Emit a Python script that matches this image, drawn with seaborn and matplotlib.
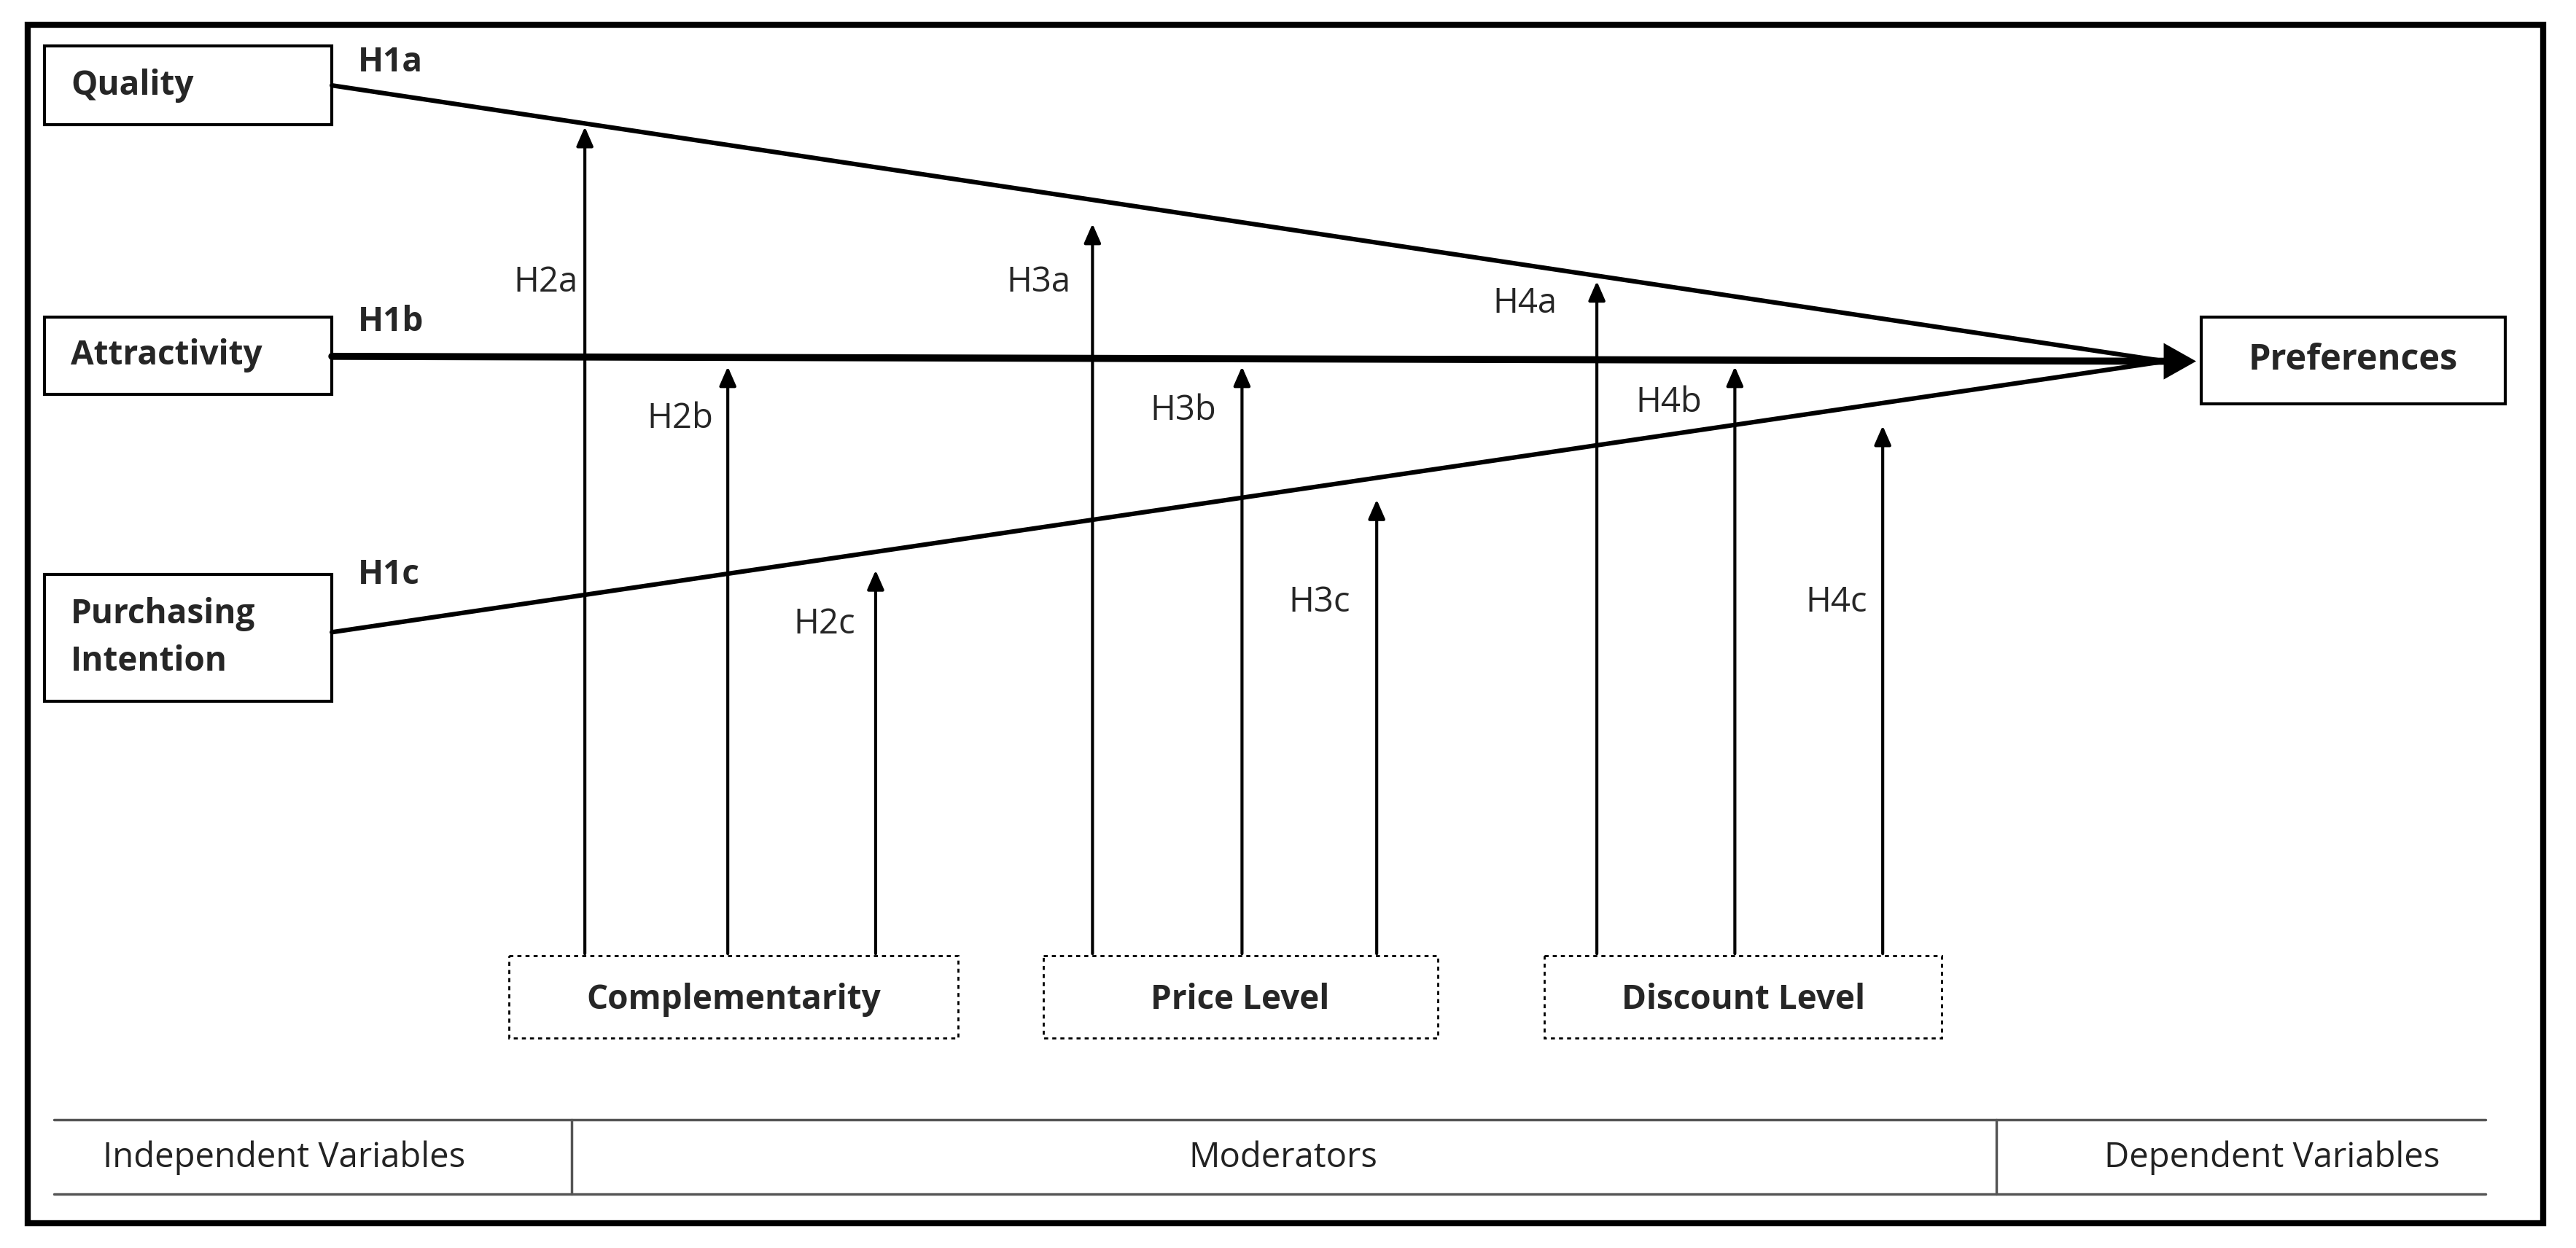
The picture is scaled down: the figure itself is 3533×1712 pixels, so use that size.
import matplotlib
matplotlib.use("Agg")
import matplotlib.pyplot as plt
import seaborn as sns
from matplotlib.patches import Rectangle, FancyArrowPatch

sns.set_style("white")
plt.rcParams['font.family'] = ['Open Sans', 'DejaVu Sans']

# --- content ---
independent = ["Quality", "Attractivity", "Purchasing\nIntention"]
h1_labels = ["H1a", "H1b", "H1c"]
moderators = ["Complementarity", "Price Level", "Discount Level"]
mod_labels = [["H2a", "H2b", "H2c"], ["H3a", "H3b", "H3c"], ["H4a", "H4b", "H4c"]]
dependent = "Preferences"
table_labels = ["Independent Variables", "Moderators", "Dependent Variables"]

# --- layout (image pixel coordinates of the 1568x760 view) ---
W, H = 1568, 760
iv_boxes = [(27, 28, 175, 48), (27, 193, 175, 47), (27, 350, 175, 77)]
iv_line_start = [(202, 52), (202, 217), (202, 385)]
h1_pos = [(218, 38), (218, 196), (218, 350)]
target = (1338, 220)
dv_box = (1340, 193, 185, 53)
mod_boxes = [(310, 582, 273, 50), (635, 582, 240, 50), (940, 582, 242, 50)]
arrow_x = [[356, 443, 533], [665, 756, 838], [972, 1056, 1146]]
arrow_top = [[76, 222, 346], [135, 222, 303], [170, 222, 258]]
lab_pos = [[(332, 172), (414, 255), (502, 380)],
           [(632, 172), (720, 250), (803, 367)],
           [(928, 185), (1016, 245), (1118, 367)]]

fig = plt.figure(figsize=(35.33, 17.12), dpi=100)
ax = fig.add_axes([0, 0, 1, 1])
ax.set_xlim(0, W)
ax.set_ylim(H, 0)
ax.axis("off")

lw = 4.5
ax.add_patch(Rectangle((17, 15), 1531, 730, fill=False, lw=6, color="black"))

for (x, y, w, h), name in zip(iv_boxes, independent):
    ax.add_patch(Rectangle((x, y), w, h, fill=False, lw=3, color="black"))
    ax.text(x + 16, y + h / 2, name, fontsize=33, fontweight="bold",
            va="center", ha="left", linespacing=1.5)

x, y, w, h = dv_box
ax.add_patch(Rectangle((x, y), w, h, fill=False, lw=3, color="black"))
ax.text(x + w / 2, y + h / 2, dependent, fontsize=35, fontweight="bold",
        va="center", ha="center")

for (sx, sy), lab, (lx, ly), i in zip(iv_line_start, h1_labels, h1_pos, range(3)):
    sns.lineplot(x=[sx, target[0] - 20], y=[sy, target[1]], ax=ax, color="black",
                 lw=7 if i == 1 else lw, sort=False)
    ax.text(lx, ly, lab, fontsize=33, fontweight="bold", va="center", ha="left")

ax.add_patch(FancyArrowPatch((target[0] - 30, target[1]), target,
                             arrowstyle="-|>,head_length=1.6,head_width=0.9",
                             mutation_scale=20, color="black", lw=0))

for (x, y, w, h), name, xs, tops, labs, lps in zip(mod_boxes, moderators, arrow_x,
                                                    arrow_top, mod_labels, lab_pos):
    ax.add_patch(Rectangle((x, y), w, h, fill=False, lw=2, ls=(0, (2, 2)), color="black"))
    ax.text(x + w / 2, y + h / 2 + 2, name, fontsize=33, fontweight="bold",
            va="center", ha="center")
    for ax_x, top, lab, (lx, ly) in zip(xs, tops, labs, lps):
        ax.annotate("", xy=(ax_x, top), xytext=(ax_x, y),
                    arrowprops=dict(arrowstyle="-|>,head_length=0.8,head_width=0.35",
                                    mutation_scale=20, color="black", lw=3))
        ax.text(lx, ly, lab, fontsize=34, va="center", ha="center")

# bottom table
for yy in (682, 727):
    ax.plot([33, 1513], [yy, yy], color="#555555", lw=2.5)
for xx in (348, 1215):
    ax.plot([xx, xx], [682, 727], color="#555555", lw=2.5)
for cx, lab in zip([173, 781, 1383], table_labels):
    ax.text(cx, 705, lab, fontsize=34, va="center", ha="center", color="#222222")

fig.savefig("out.png", dpi=100)
